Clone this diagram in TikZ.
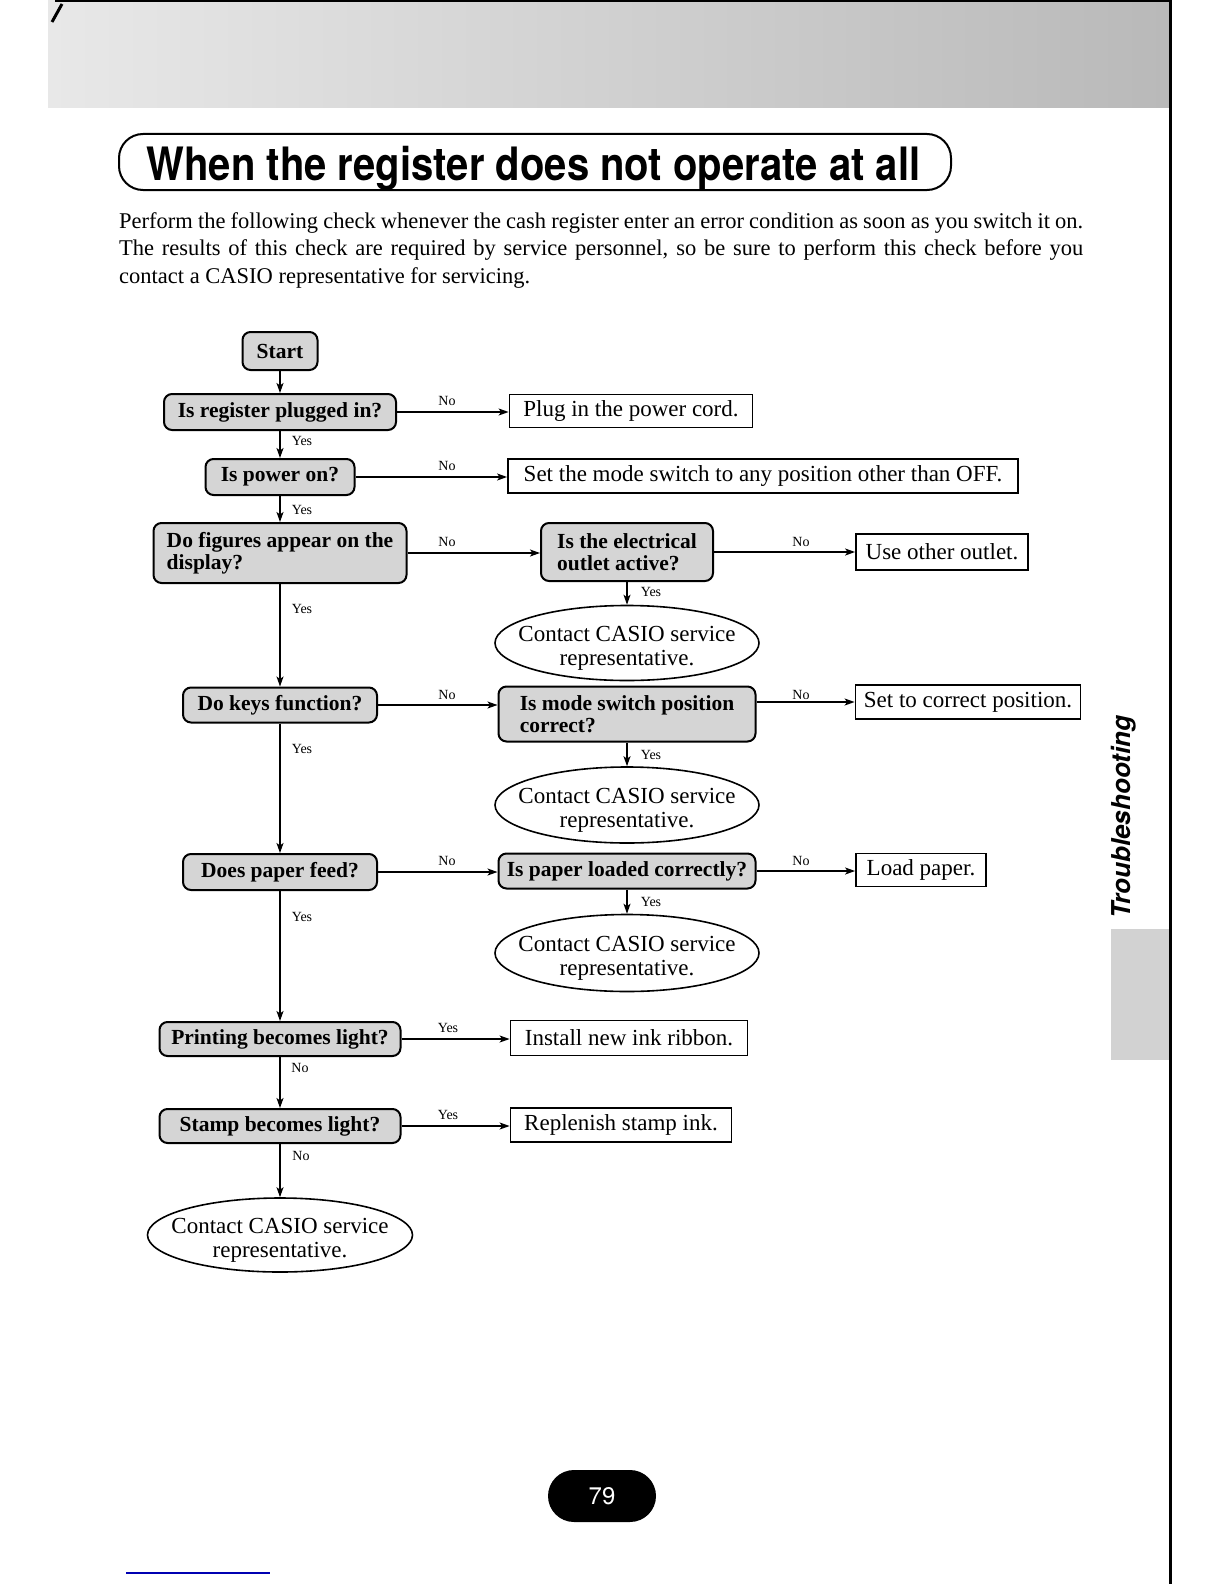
\documentclass[tikz,border=0pt]{standalone}
\usepackage{graphicx}
\usepackage{fontspec}
\setmainfont{Liberation Serif}
\newfontfamily\helv{TeX Gyre Heros}
\usetikzlibrary{shapes.geometric,arrows.meta,calc}
\newcommand{\ctext}{\rule{0pt}{26pt}Contact CASIO service\\representative.}
\begin{document}
\begin{tikzpicture}[x=1pt,y=-1pt,
 qbox/.style={draw,line width=2pt,rounded corners=8pt,fill=gray!33,inner sep=0pt,align=center,font={\bfseries\fontsize{21.5}{22.5}\selectfont}},
 abox/.style={draw,line width=1.8pt,inner sep=0pt,font={\fontsize{23}{26}\selectfont}},
 ebox/.style={ellipse,draw,line width=1.6pt,inner xsep=-16pt,inner ysep=-2pt,align=center,minimum width=264,minimum height=75,font={\fontsize{23}{23.5}\selectfont}},
 lbl/.style={inner sep=0pt,font={\fontsize{14}{16}\selectfont}},
 arr/.style={line width=1.4pt,-{Stealth[length=10pt,width=7pt,inset=2.5pt]}},
 partext/.style={anchor=base west,inner sep=0pt,font={\fontsize{22.5}{27}\selectfont}}
]
\fill[white] (0,0) rectangle (1224,1584);
\useasboundingbox (0,0) rectangle (1224,1584);

% header band
\shade[left color=gray!18,right color=gray!55] (48,0) rectangle (1170,108);
\draw[line width=2pt] (55,1) -- (1170,1);
\draw[line width=3pt] (52,22) -- (62,4);
% right page edge
\draw[line width=3pt] (1170,0) -- (1170,1584);

% title
\node[draw,line width=2pt,rounded corners=24pt,minimum width=832,minimum height=56,inner sep=0pt] (titlebox) at (535,162) {};
\node[anchor=base,inner sep=0pt,font={\helv\bfseries\fontsize{46}{50}\selectfont}] (title) at (533.5,180) {\scalebox{0.87}[1]{When the register does not operate at all}};

% paragraph
\node[partext] (par1) at (119,228) {\makebox[964pt][s]{Perform the following check whenever the cash register enter an error condition as soon as you switch it on.}};
\node[partext] (par2) at (119,255.5) {\makebox[964pt][s]{The results of this check are required by service personnel, so be sure to perform this check before you}};
\node[partext] (par3) at (119,283) {contact a CASIO representative for servicing.};

% flowchart nodes
\node[qbox,minimum width=75,minimum height=38] (start) at (280,351) {Start};
\node[qbox,minimum width=232,minimum height=36] (q1) at (280,412) {Is register plugged in?};
\node[abox,minimum width=243,minimum height=33] (a1) at (631,411) {Plug in the power cord.};
\node[qbox,minimum width=149,minimum height=36] (q2) at (280,477) {Is power on?};
\node[abox,minimum width=510,minimum height=34] (a2) at (763,476) {Set the mode switch to any position other than OFF.};
\node[qbox,minimum width=253,minimum height=60,align=left] (q3) at (280,553) {Do figures appear on the\\display?};
\node[qbox,minimum width=172,minimum height=58,align=left] (q3b) at (627,552) {Is the electrical\\outlet active?};
\node[abox,minimum width=172,minimum height=36] (a3) at (942,552) {Use other outlet.};
\node[ebox] (e1) at (627,643) {\ctext};
\node[qbox,minimum width=194,minimum height=35] (q4) at (280,705) {Do keys function?};
\node[qbox,minimum width=257,minimum height=55,align=left] (q4b) at (627,714) {Is mode switch position\\correct?};
\node[abox,minimum width=225,minimum height=34] (a4) at (968,702) {Set to correct position.};
\node[ebox,minimum height=76] (e2) at (627,805) {\ctext};
\node[qbox,minimum width=194,minimum height=36] (q5) at (280,872) {Does paper feed?};
\node[qbox,minimum width=257,minimum height=35] (q5b) at (627,871) {Is paper loaded correctly?};
\node[abox,minimum width=130,minimum height=33] (a5) at (921,870) {Load paper.};
\node[ebox,minimum height=77] (e3) at (627,953) {\ctext};
\node[qbox,minimum width=241,minimum height=34] (q6) at (280,1039) {Printing becomes light?};
\node[abox,minimum width=237,minimum height=35] (a6) at (629,1038) {Install new ink ribbon.};
\node[qbox,minimum width=241,minimum height=34] (q7) at (280,1126) {Stamp becomes light?};
\node[abox,minimum width=221,minimum height=34] (a7) at (621,1125) {Replenish stamp ink.};
\node[ebox,minimum width=265,minimum height=74] (e4) at (280,1235) {\ctext};

% connectors
\draw[arr] (start) -- (q1);
\draw[arr] (q1) -- (q2);
\draw[arr] (q2) -- (q3);
\draw[arr] (q3) -- (q4);
\draw[arr] (q4) -- (q5);
\draw[arr] (q5) -- (q6);
\draw[arr] (q6) -- (q7);
\draw[arr] (q7) -- (e4);
\draw[arr] (q3b) -- (e1);
\draw[arr] (q4b) -- (e2);
\draw[arr] (q5b) -- (e3);
\draw[arr] (q1.east) -- (q1.east -| a1.west);
\draw[arr] (q2.east) -- (q2.east -| a2.west);
\draw[arr] (q3.east) -- (q3.east -| q3b.west);
\draw[arr] (q3b.east) -- (q3b.east -| a3.west);
\draw[arr] (q4.east) -- (q4.east -| q4b.west);
\draw[arr] (q4b.east |- a4.west) -- (a4.west);
\draw[arr] (q5.east) -- (q5.east -| q5b.west);
\draw[arr] (q5b.east) -- (q5b.east -| a5.west);
\draw[arr] (q6.east) -- (q6.east -| a6.west);
\draw[arr] (q7.east) -- (q7.east -| a7.west);

% labels
\node[lbl] (l1) at (447,401) {No};
\node[lbl] (l2) at (447,466) {No};
\node[lbl] (l3) at (447,542) {No};
\node[lbl] (l4) at (801,542) {No};
\node[lbl] (l5) at (447,695) {No};
\node[lbl] (l6) at (801,695) {No};
\node[lbl] (l7) at (447,861) {No};
\node[lbl] (l8) at (801,861) {No};
\node[lbl] (l9) at (448,1028) {Yes};
\node[lbl] (l10) at (448,1115) {Yes};
\node[lbl] (y1) at (302,441) {Yes};
\node[lbl] (y2) at (302,510) {Yes};
\node[lbl] (y3) at (302,609) {Yes};
\node[lbl] (y4) at (302,749) {Yes};
\node[lbl] (y5) at (302,917) {Yes};
\node[lbl] (y6) at (300,1068) {No};
\node[lbl] (y7) at (301,1156) {No};
\node[lbl] (y8) at (651,592) {Yes};
\node[lbl] (y9) at (651,755) {Yes};
\node[lbl] (y10) at (651,902) {Yes};

% side tab
\node[rotate=90,inner sep=0pt,font={\helv\bfseries\itshape\fontsize{26}{28}\selectfont}] (tab) at (1124,817) {Troubleshooting};
\fill[gray!35] (1111,929) rectangle (1168.5,1060);

% page number
\node[fill=black,rounded corners=26pt,minimum width=108,minimum height=52,inner sep=0pt,text=white,font={\helv\fontsize{24}{26}\selectfont}] (pg) at (602,1496) {79};
\draw[blue!70!black,line width=1.5pt] (126,1573) -- (270,1573);
\end{tikzpicture}
\end{document}
